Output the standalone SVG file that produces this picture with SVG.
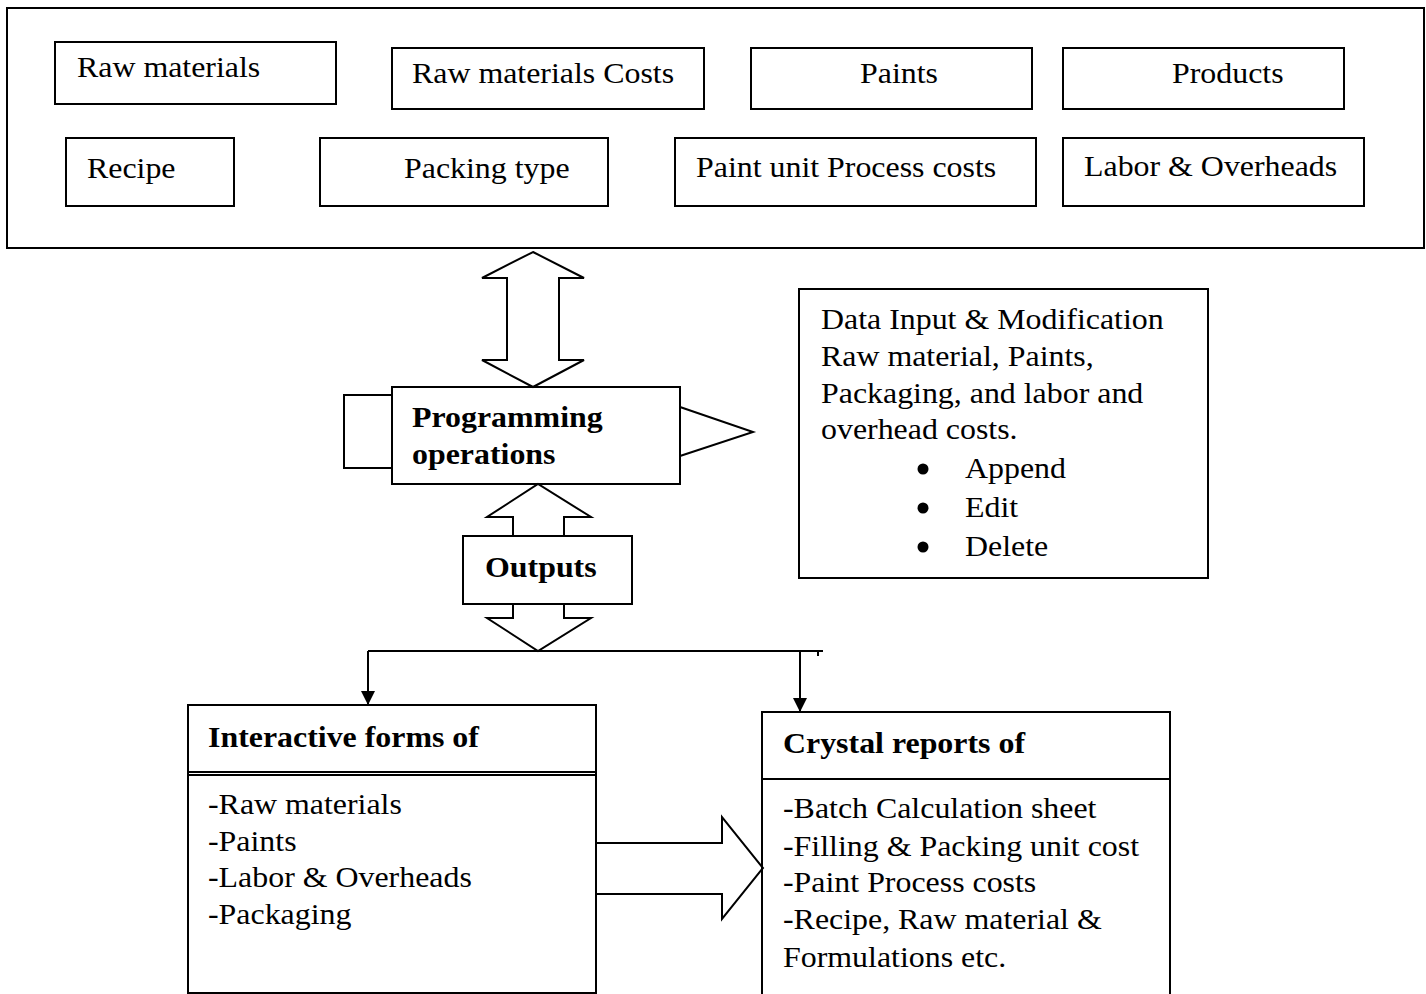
<svg xmlns="http://www.w3.org/2000/svg" width="1426" height="994" viewBox="0 0 1426 994">
  <style>
    .box { fill: #fff; stroke: #000; stroke-width: 2; }
    .ln { fill: none; stroke: #000; stroke-width: 2; }
    .blk { fill: none; stroke: #000; stroke-width: 2; stroke-linejoin: miter; }
    text { font-family: "Liberation Serif", "Times New Roman", serif; font-size: 29px; fill: #000; }
    .b { font-weight: bold; }
  </style>
  <defs>
    <marker id="tri" viewBox="0 0 14 14" refX="14" refY="7" markerWidth="14" markerHeight="14" markerUnits="userSpaceOnUse" orient="auto">
      <path d="M0,0 L14,7 L0,14 Z" fill="#000"/>
    </marker>
  </defs>

  <rect width="1426" height="994" fill="#fff"/>

  <!-- data tables container -->
  <g id="tables">
    <rect class="box" x="7" y="8" width="1417" height="240"/>
    <g id="raw-materials">
      <rect class="box" x="55" y="42" width="281" height="62"/>
      <text transform="translate(77 77) scale(1.1 1)">Raw materials</text>
    </g>
    <g id="raw-materials-costs">
      <rect class="box" x="392" y="48" width="312" height="61"/>
      <text transform="translate(412 83) scale(1.1 1)">Raw materials Costs</text>
    </g>
    <g id="paints">
      <rect class="box" x="751" y="48" width="281" height="61"/>
      <text transform="translate(860 83) scale(1.1 1)">Paints</text>
    </g>
    <g id="products">
      <rect class="box" x="1063" y="48" width="281" height="61"/>
      <text transform="translate(1172 83) scale(1.1 1)">Products</text>
    </g>
    <g id="recipe">
      <rect class="box" x="66" y="138" width="168" height="68"/>
      <text transform="translate(87 178) scale(1.1 1)">Recipe</text>
    </g>
    <g id="packing-type">
      <rect class="box" x="320" y="138" width="288" height="68"/>
      <text transform="translate(404 178) scale(1.1 1)">Packing type</text>
    </g>
    <g id="paint-unit-process-costs">
      <rect class="box" x="675" y="138" width="361" height="68"/>
      <text transform="translate(696 177) scale(1.1 1)">Paint unit Process costs</text>
    </g>
    <g id="labor-overheads">
      <rect class="box" x="1063" y="138" width="301" height="68"/>
      <text transform="translate(1084 176) scale(1.1 1)">Labor &amp; Overheads</text>
    </g>
  </g>

  <!-- programming operations -->
  <g id="programming">
    <path class="ln" d="M392,395 H344 V468 H392"/>
    <path class="blk" d="M680,407 L753,432 L680,456"/>
    <rect class="box" x="392" y="387" width="288" height="97"/>
    <text class="b" transform="translate(412 427) scale(1.1 1)">Programming<tspan x="0" dy="37">operations</tspan></text>
  </g>

  <!-- data input panel -->
  <g id="data-input">
    <rect class="box" x="799" y="289" width="409" height="289"/>
    <text transform="translate(821 329) scale(1.1 1)">Data Input &amp; Modification<tspan x="0" dy="37">Raw material, Paints,</tspan><tspan x="0" dy="37">Packaging, and labor and</tspan><tspan x="0" dy="36">overhead costs.</tspan></text>
    <circle cx="923" cy="469" r="5.5"/>
    <circle cx="923" cy="508" r="5.5"/>
    <circle cx="923" cy="547" r="5.5"/>
    <text transform="translate(965 478) scale(1.1 1)">Append</text>
    <text transform="translate(965 517) scale(1.1 1)">Edit</text>
    <text transform="translate(965 556) scale(1.1 1)">Delete</text>
  </g>

  <!-- outputs -->
  <g id="outputs">
    <rect class="box" x="463" y="536" width="169" height="68"/>
    <text class="b" transform="translate(485 577) scale(1.1 1)">Outputs</text>
  </g>

  <!-- interactive forms -->
  <g id="interactive-forms">
    <rect class="box" x="188" y="705" width="408" height="288"/>
    <line class="ln" x1="188" y1="772" x2="596" y2="772"/>
    <line class="ln" x1="188" y1="775" x2="596" y2="775" stroke-width="1"/>
    <text class="b" transform="translate(208 747) scale(1.1 1)">Interactive forms of</text>
    <text transform="translate(208 814) scale(1.1 1)">-Raw materials<tspan x="0" dy="37">-Paints</tspan><tspan x="0" dy="36">-Labor &amp; Overheads</tspan><tspan x="0" dy="37">-Packaging</tspan></text>
  </g>

  <!-- crystal reports -->
  <g id="crystal-reports">
    <path class="box" d="M762,996 V712 H1170 V996"/>
    <line class="ln" x1="762" y1="779" x2="1170" y2="779"/>
    <text class="b" transform="translate(783 753) scale(1.1 1)">Crystal reports of</text>
    <text transform="translate(783 818) scale(1.1 1)">-Batch Calculation sheet<tspan x="0" dy="38">-Filling &amp; Packing unit cost</tspan><tspan x="0" dy="36">-Paint Process costs</tspan><tspan x="0" dy="37">-Recipe, Raw material &amp;</tspan><tspan x="0" dy="38">Formulations etc.</tspan></text>
  </g>

  <!-- connectors -->
  <g id="connectors">
    <!-- tables <-> programming -->
    <path class="blk" fill="#fff" d="M533,252 L584,278 L559,278 L559,360 L584,360 L533,387 L482,360 L507,360 L507,278 L482,278 Z"/>
    <!-- programming <-> outputs -->
    <path class="blk" d="M513,536 V517 H487 L538,484 L591,517 H564 V536"/>
    <path class="blk" d="M513,604 V618 H487 L538,651 L591,618 H564 V604"/>
    <!-- split to outputs -->
    <line class="ln" x1="368" y1="651" x2="823" y2="651"/>
    <line class="ln" x1="818" y1="651" x2="818" y2="656" stroke-width="1"/>
    <line class="ln" x1="368" y1="651" x2="368" y2="705" marker-end="url(#tri)"/>
    <line class="ln" x1="800" y1="651" x2="800" y2="712" marker-end="url(#tri)"/>
    <!-- forms -> reports -->
    <path class="blk" d="M596,843 H722 V817 L763,868 L722,919 V894 H596"/>
  </g>
</svg>
